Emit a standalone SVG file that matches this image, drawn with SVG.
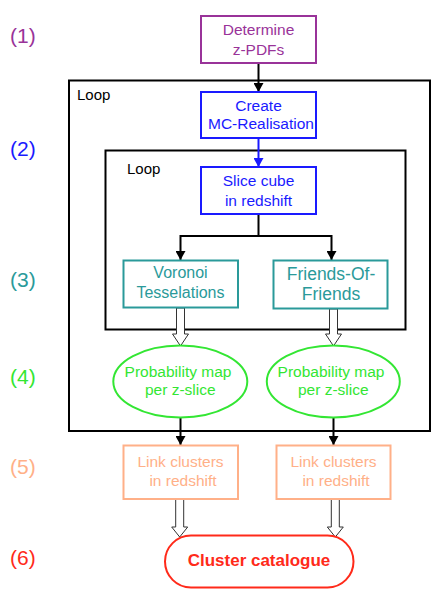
<svg xmlns="http://www.w3.org/2000/svg" width="436" height="600" viewBox="0 0 436 600">
<defs>
<style>
text{font-family:"Liberation Sans",Arial,sans-serif;text-anchor:middle}
.lbl{font-size:21px;text-anchor:start}
.loop{fill:none;stroke:#000;stroke-width:2}
.looplbl{font-size:15px;text-anchor:start;fill:#000}
.box{fill:#fff;stroke-width:2}
.t{font-size:15.5px}
.conn{fill:none;stroke:#000;stroke-width:2}
.hollow{fill:#fff;stroke:#333;stroke-width:1}
.purple{stroke:#993399}.blue{stroke:#1a1aff}.teal{stroke:#2a9a9a}.green{stroke:#33e633}.peach{stroke:#ffb088}.red{stroke:#ff2a1a}
</style>
<marker id="ah" markerWidth="9" markerHeight="10" refX="9" refY="5" orient="auto" markerUnits="userSpaceOnUse"><path d="M0,0 L9,5 L0,10 Z" fill="#000"/></marker>
<marker id="ahb" markerWidth="9" markerHeight="10" refX="9" refY="5" orient="auto" markerUnits="userSpaceOnUse"><path d="M0,0 L9,5 L0,10 Z" fill="#1a1aff"/></marker>
</defs>
<rect width="436" height="600" fill="#fff"/>
<g id="step-labels">
<text class="lbl" x="10" y="43" fill="#993399">(1)</text>
<text class="lbl" x="10" y="156" fill="#1a1aff">(2)</text>
<text class="lbl" x="10" y="287" fill="#2a9a9a">(3)</text>
<text class="lbl" x="10" y="384" fill="#33e633">(4)</text>
<text class="lbl" x="10" y="474" fill="#ffb088">(5)</text>
<text class="lbl" x="10" y="565" fill="#ff2a1a">(6)</text>
</g>
<g id="outer-loop">
<rect class="loop" x="69" y="80.5" width="361" height="350.5"/>
<text class="looplbl" x="77" y="100">Loop</text>
</g>
<g id="inner-loop">
<rect class="loop" x="105.5" y="150.5" width="300" height="179"/>
<text class="looplbl" x="127" y="174">Loop</text>
</g>
<g id="connectors">
<line class="conn" x1="258.5" y1="63" x2="258.5" y2="92" marker-end="url(#ah)"/>
<line x1="258.5" y1="138" x2="258.5" y2="167" stroke="#1a1aff" stroke-width="2" marker-end="url(#ahb)"/>
<path class="conn" d="M258.5,214 V236 H180.5 V260" marker-end="url(#ah)"/>
<path class="conn" d="M258.5,236 H331.5 V260" marker-end="url(#ah)"/>
<line class="conn" x1="180.5" y1="418" x2="180.5" y2="445" marker-end="url(#ah)"/>
<line class="conn" x1="333.5" y1="418" x2="333.5" y2="445" marker-end="url(#ah)"/>
<path class="hollow" d="M176.5,308 H184.5 V334 H188.5 L180.5,346 L172.5,334 H176.5 Z"/>
<path class="hollow" d="M329.5,309 H337.5 V334 H341.5 L333.5,346 L325.5,334 H329.5 Z"/>
<path class="hollow" d="M175.7,499 H183.7 V527 H187.7 L179.7,537 L171.7,527 H175.7 Z"/>
<path class="hollow" d="M331.3,499 H339.3 V527 H343.3 L335.3,537 L327.3,527 H331.3 Z"/>
</g>
<g id="determine">
<rect class="box purple" x="201" y="16" width="115" height="47"/>
<text class="t" x="258.5" y="35" fill="#993399">Determine</text>
<text class="t" x="258.5" y="54.5" fill="#993399">z-PDFs</text>
</g>
<g id="create">
<rect class="box blue" x="201" y="92" width="115" height="46"/>
<text class="t" x="258.5" y="110.7" fill="#1a1aff">Create</text>
<text class="t" x="261" y="129.3" fill="#1a1aff">MC-Realisation</text>
</g>
<g id="slice">
<rect class="box blue" x="201" y="167" width="115" height="47"/>
<text class="t" x="258.5" y="186" fill="#1a1aff">Slice cube</text>
<text class="t" x="258.5" y="205.5" fill="#1a1aff">in redshift</text>
</g>
<g id="voronoi">
<rect class="box teal" x="123.5" y="260.5" width="114.5" height="47"/>
<text x="180.5" y="278.3" font-size="16" fill="#2a9a9a">Voronoi</text>
<text x="180.5" y="298.3" font-size="16" fill="#2a9a9a">Tesselations</text>
</g>
<g id="fof">
<rect class="box teal" x="273.5" y="260.5" width="114" height="48"/>
<text x="331" y="280" font-size="17.5" fill="#2a9a9a">Friends-Of-</text>
<text x="331" y="300" font-size="17.5" fill="#2a9a9a">Friends</text>
</g>
<g id="prob-left">
<ellipse class="box green" cx="180.3" cy="381.5" rx="67" ry="36"/>
<text class="t" x="178" y="376.7" fill="#33e633">Probability map</text>
<text class="t" x="180.3" y="395" fill="#33e633">per z-slice</text>
</g>
<g id="prob-right">
<ellipse class="box green" cx="333.3" cy="381.5" rx="66.5" ry="36"/>
<text class="t" x="331" y="376.7" fill="#33e633">Probability map</text>
<text class="t" x="333.3" y="395" fill="#33e633">per z-slice</text>
</g>
<g id="link-left">
<rect class="box peach" x="123.5" y="445.5" width="114.5" height="53.5"/>
<text class="t" x="180.5" y="466.7" fill="#ffb088">Link clusters</text>
<text class="t" x="183" y="486" fill="#ffb088">in redshift</text>
</g>
<g id="link-right">
<rect class="box peach" x="276.5" y="445.5" width="114" height="53.5"/>
<text class="t" x="333.5" y="466.7" fill="#ffb088">Link clusters</text>
<text class="t" x="336" y="486" fill="#ffb088">in redshift</text>
</g>
<g id="catalogue">
<rect class="box red" x="165" y="535.5" width="188.5" height="52" rx="26" ry="26"/>
<text x="259" y="566" font-size="17" font-weight="bold" fill="#ff2a1a">Cluster catalogue</text>
</g>
</svg>
